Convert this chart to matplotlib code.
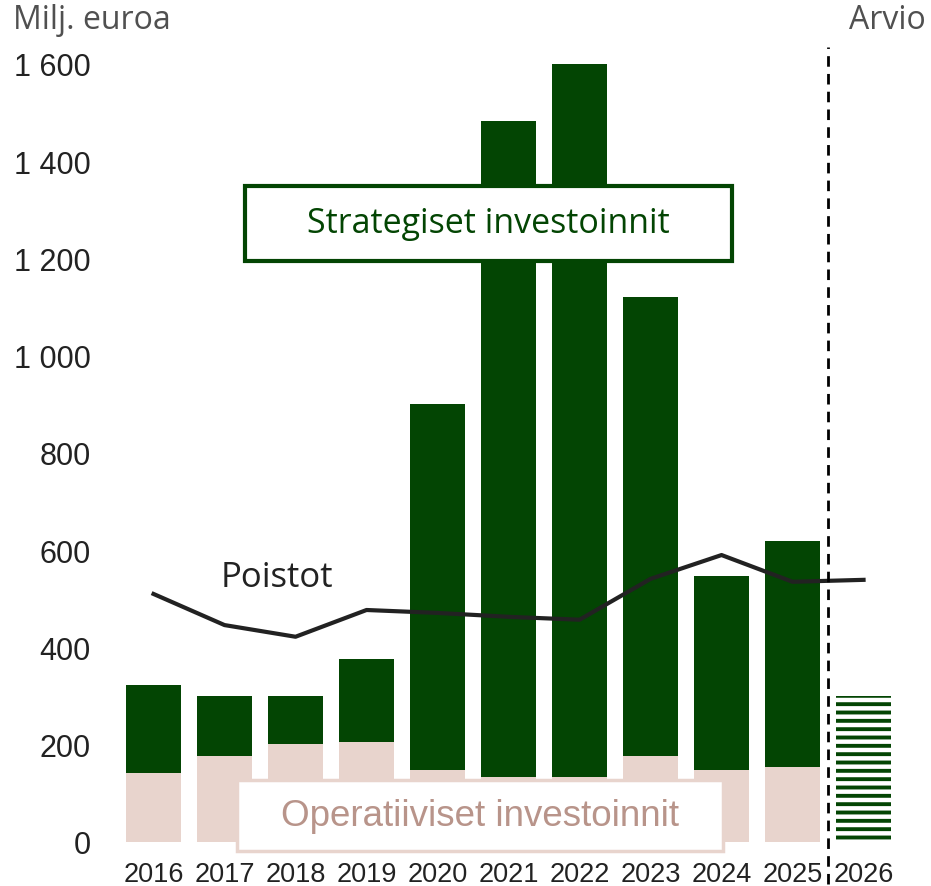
import numpy as np
import matplotlib.pyplot as plt
from matplotlib.patches import Rectangle

# 데이터
vuodet = ['2016', '2017', '2018', '2019', '2020', '2021', '2022', '2023', '2024', '2025', '2026']
operatiiviset = [142, 177, 202, 206, 148, 134, 134, 177, 148, 154]
yhteensa = [323, 300, 300, 376, 901, 1483, 1600, 1121, 547, 619]
arvio_2026 = 300
poistot = [510, 446, 422, 477, 471, 463, 457, 541, 590, 535, 539]

vihrea = '#034503'
roosa = '#e8d4cd'
teksti_roosa = '#b8948a'

strategiset = [t - o for t, o in zip(yhteensa, operatiiviset)]
x = np.arange(len(vuodet))
W, H = 931, 887

plt.rcParams['hatch.linewidth'] = 2.8  # 막대 생성 전에 설정

fig = plt.figure(figsize=(W / 100, H / 100), dpi=100)
ax = fig.add_axes([110 / W, (H - 843) / H, 821 / W, 803 / H])

# 1. 막대
ax.bar(x[:10], operatiiviset, width=0.775, color=roosa, zorder=2)
ax.bar(x[:10], strategiset, bottom=operatiiviset, width=0.775, color=vihrea, zorder=2)
ax.bar(x[10], arvio_2026, width=0.775, facecolor='white', edgecolor=vihrea,
       linewidth=0, hatch='--', zorder=2)

# 2. 선 (Poistot)
ax.plot(x, poistot, color='#222222', linewidth=3, zorder=3)

# 구분선
ax.plot([9.5, 9.5], [-86, 1635], color='black', linewidth=2,
        dashes=(3.8, 2.6), clip_on=False, zorder=4)

ax.set_xlim(-0.613, 10.95)
ax.set_ylim(0, 1651)
ax.set_yticks(range(0, 1601, 200))
ax.set_yticklabels([f'{v:,}'.replace(',', ' ') for v in range(0, 1601, 200)],
                   fontsize=22, color='#222222', family='Liberation Sans')
ax.set_xticks(x)
ax.set_xticklabels(vuodet, fontsize=19.5, color='#222222', family='Liberation Sans')
ax.tick_params(axis='y', length=0, pad=14)
ax.tick_params(axis='x', length=0, pad=14)
for s in ax.spines.values():
    s.set_visible(False)

# 텍스트
fig.text(13 / W, 1 - 4 / H, 'Milj. euroa', fontsize=23, color='#505050',
         family='Open Sans', ha='left', va='top')
fig.text(926 / W, 1 - 4 / H, 'Arvio', fontsize=23, color='#505050',
         family='Open Sans', ha='right', va='top')
ax.text(1.74, 545, 'Poistot', fontsize=25, color='#222222', family='Open Sans',
        ha='center', va='center', zorder=5)

# 라벨 박스
fig.patches.append(Rectangle((245 / W, 1 - 262 / H), 487 / W, 75 / H,
                             transform=fig.transFigure, facecolor='white',
                             edgecolor=vihrea, linewidth=3, zorder=5))
fig.text(488.5 / W, 1 - 224.5 / H, 'Strategiset investoinnit', fontsize=24.5,
         color=vihrea, family='Open Sans', ha='center', va='center', zorder=6)
fig.patches.append(Rectangle((237 / W, 1 - 852 / H), 486 / W, 71 / H,
                             transform=fig.transFigure, facecolor='white',
                             edgecolor=roosa, linewidth=2.5, zorder=5))
fig.text(480 / W, 1 - 817 / H, 'Operatiiviset investoinnit', fontsize=26.5,
         color=teksti_roosa, family='Liberation Sans', ha='center', va='center', zorder=6)

fig.savefig('out.png', dpi=100)
